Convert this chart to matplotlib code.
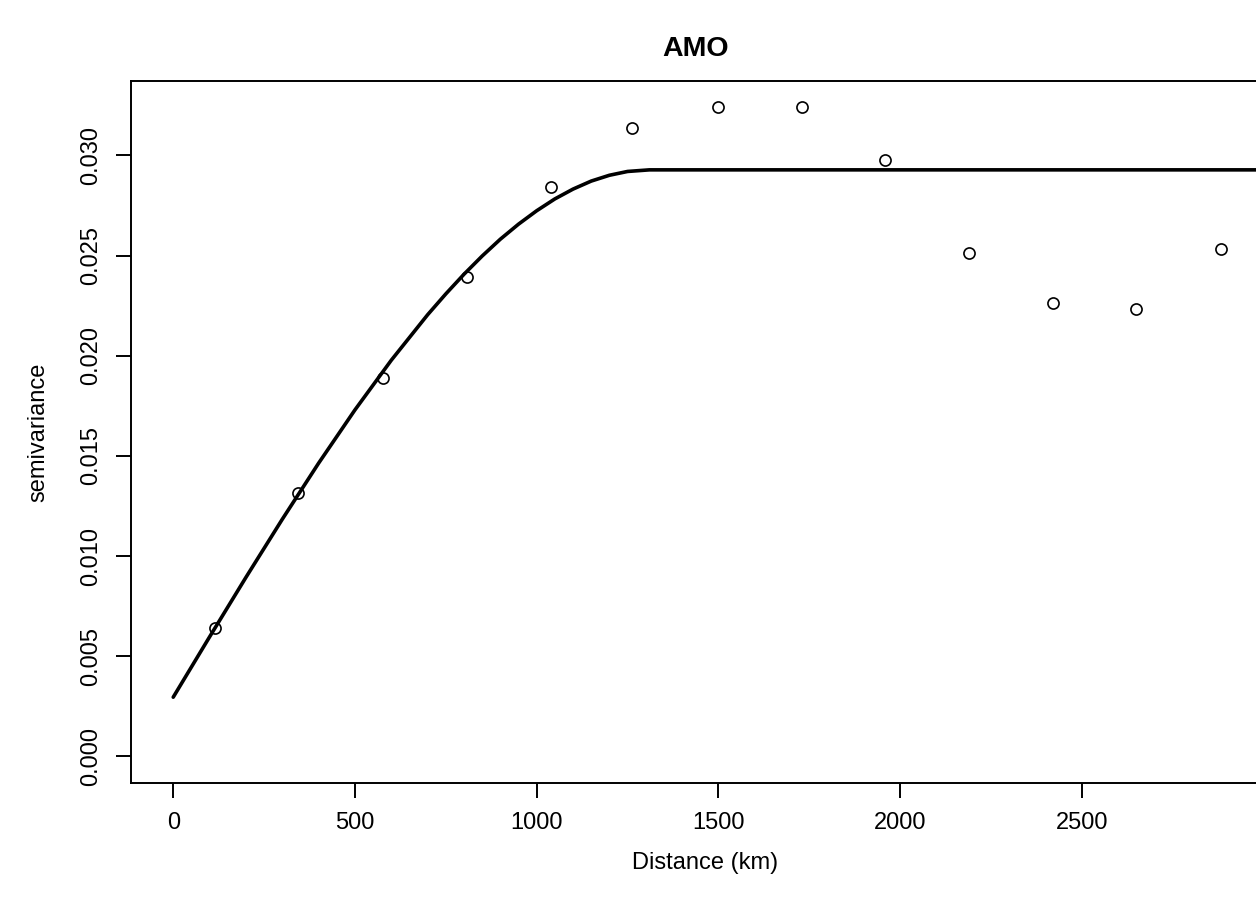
import matplotlib
matplotlib.use("Agg")
import matplotlib.pyplot as plt

plt.rcParams['font.family'] = ['Liberation Sans', 'DejaVu Sans']

# Empirical semivariogram (distance in km, semivariance)
distance = [115, 344, 577, 807, 1038, 1263, 1499, 1730, 1958, 2189, 2421, 2649, 2882]
gamma = [0.00640, 0.01317, 0.01888, 0.02392, 0.02844, 0.03136, 0.03240, 0.03240,
         0.02978, 0.02512, 0.02265, 0.02234, 0.02535]

# Fitted model curve
model_dist = [0, 100, 200, 300, 400, 500, 600, 700, 750, 800, 850, 900, 950,
              1000, 1050, 1100, 1150, 1200, 1250, 1310, 3100]
model_gamma = [0.00296, 0.00597, 0.00894, 0.01184, 0.01464, 0.01730, 0.01978,
               0.02205, 0.02309, 0.02407, 0.02498, 0.02582, 0.02657, 0.02724,
               0.02783, 0.02832, 0.02872, 0.02901, 0.02920, 0.02928, 0.02928]

x_ticks = [0, 500, 1000, 1500, 2000, 2500]
y_ticks = [0.000, 0.005, 0.010, 0.015, 0.020, 0.025, 0.030]

W, H = 1256, 900
fig = plt.figure(figsize=(W / 100, H / 100), dpi=100)
left_px, right_px, top_px, bottom_px = 130.7, 1280, 80.7, 783.3
ax = fig.add_axes([left_px / W, 1 - bottom_px / H, (right_px - left_px) / W, (bottom_px - top_px) / H])

ax.plot(model_dist, model_gamma, color='black', lw=2.6, solid_joinstyle='round',
        solid_capstyle='round', zorder=2)
ax.plot(distance, gamma, linestyle='none', marker='o', markersize=8,
        markerfacecolor='none', markeredgecolor='black', markeredgewidth=1.2, zorder=3)

ax.set_xlim(-117, 3045)
ax.set_ylim(-0.001338, 0.03373)
ax.set_xticks(x_ticks)
ax.set_xticklabels([str(v) for v in x_ticks])
ax.set_yticks(y_ticks)
ax.set_yticklabels([f"{v:.3f}" for v in y_ticks], rotation=90, va='center')

for s in ax.spines.values():
    s.set_linewidth(1.4)
ax.tick_params(axis='both', length=10.8, width=1.4, labelsize=17, pad=10, direction='out')

ax.set_xlabel('Distance (km)', fontsize=17, labelpad=13)
ax.set_ylabel('semivariance', fontsize=17, labelpad=22)
fig.text(696 / W, 1 - 49 / H, 'AMO', fontsize=20.5,
         fontweight='bold', ha='center', va='center')

fig.savefig('out.png', dpi=100)
